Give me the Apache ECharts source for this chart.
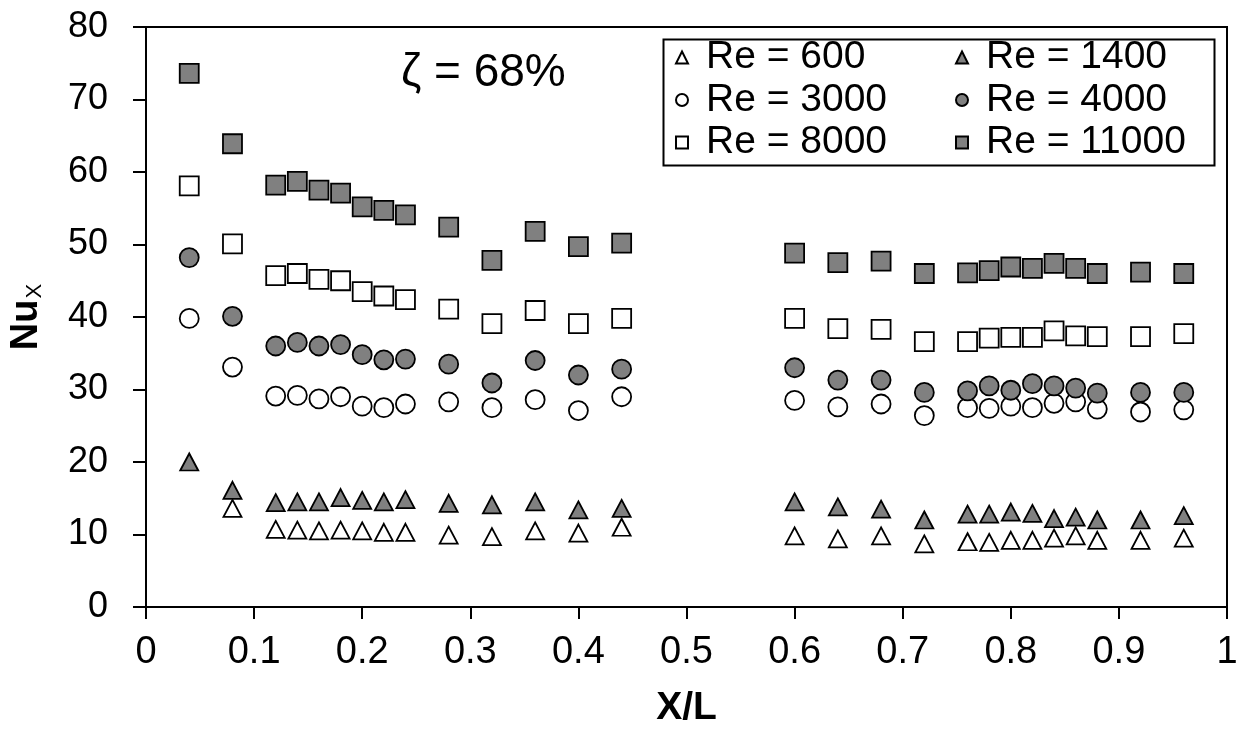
<!DOCTYPE html>
<html>
<head>
<meta charset="utf-8">
<script src="https://cdn.jsdelivr.net/npm/echarts@6/dist/echarts.min.js"></script>
<style>
html,body{margin:0;padding:0;background:#fff;}
#chart{width:1244px;height:733px;}
</style>
</head>
<body>
<div id="chart"></div>
<script>
const xPositions = [0.04, 0.08, 0.12, 0.14, 0.16, 0.18, 0.20, 0.22, 0.24, 0.28, 0.32, 0.36, 0.40, 0.44,
  0.60, 0.64, 0.68, 0.72, 0.76, 0.78, 0.80, 0.82, 0.84, 0.86, 0.88, 0.92, 0.96];

const re600 = [null, 13.6, 10.7, 10.6, 10.5, 10.6, 10.5, 10.3, 10.3, 9.9, 9.7, 10.5, 10.2, 11.0,
  9.8, 9.4, 9.8, 8.7, 9.0, 8.9, 9.2, 9.2, 9.5, 9.8, 9.2, 9.2, 9.5];
const re1400 = [20.0, 16.1, 14.4, 14.5, 14.5, 15.1, 14.7, 14.5, 14.8, 14.3, 14.1, 14.5, 13.4, 13.6,
  14.5, 13.8, 13.5, 12.0, 12.8, 12.8, 13.1, 12.9, 12.2, 12.4, 12.0, 12.0, 12.6];
const re3000 = [39.8, 33.1, 29.1, 29.2, 28.7, 29.0, 27.7, 27.5, 28.0, 28.3, 27.5, 28.6, 27.1, 29.0,
  28.5, 27.6, 28.0, 26.4, 27.5, 27.4, 27.7, 27.5, 28.1, 28.3, 27.3, 26.9, 27.2];
const re4000 = [48.2, 40.1, 36.0, 36.5, 36.0, 36.2, 34.8, 34.1, 34.2, 33.5, 30.9, 34.0, 32.0, 32.8,
  33.0, 31.3, 31.3, 29.6, 29.8, 30.5, 29.9, 30.8, 30.5, 30.2, 29.5, 29.6, 29.6];
const re8000 = [58.1, 50.1, 45.7, 46.0, 45.2, 45.0, 43.5, 42.9, 42.4, 41.1, 39.1, 40.9, 39.1, 39.8,
  39.8, 38.4, 38.3, 36.6, 36.6, 37.1, 37.2, 37.2, 38.1, 37.4, 37.3, 37.3, 37.7];
const re11000 = [73.6, 63.9, 58.2, 58.7, 57.5, 57.1, 55.2, 54.7, 54.1, 52.4, 47.8, 51.8, 49.7, 50.2,
  48.8, 47.5, 47.7, 46.0, 46.1, 46.4, 46.9, 46.7, 47.4, 46.7, 46.0, 46.2, 46.0];

const seriesNames = ['Re = 600', 'Re = 1400', 'Re = 3000', 'Re = 4000', 'Re = 8000', 'Re = 11000'];
const legendCol1 = ['Re = 600', 'Re = 3000', 'Re = 8000'];
const legendCol2 = ['Re = 1400', 'Re = 4000', 'Re = 11000'];
const annotation = 'ζ = 68%';

const FONT = "'Liberation Sans', Arial, Helvetica, sans-serif";
const GRAY = '#808080';

function pairs(vals) {
  const out = [];
  vals.forEach((v, i) => { if (v !== null) out.push([xPositions[i], v]); });
  return out;
}

const styles = [
  {vals: re600, symbol: 'triangle', size: [18, 17], fill: '#ffffff'},
  {vals: re1400, symbol: 'triangle', size: [18, 17], fill: GRAY},
  {vals: re3000, symbol: 'circle', size: 19, fill: '#ffffff'},
  {vals: re4000, symbol: 'circle', size: 19, fill: GRAY},
  {vals: re8000, symbol: 'rect', size: 19, fill: '#ffffff'},
  {vals: re11000, symbol: 'rect', size: 19, fill: GRAY}
];

const series = styles.map((s, i) => ({
  name: seriesNames[i],
  type: 'scatter',
  symbol: s.symbol,
  symbolSize: s.size,
  itemStyle: {color: s.fill, borderColor: '#000', borderWidth: 1.8, opacity: 1},
  emphasis: {disabled: true},
  data: pairs(s.vals)
}));

const legendCommon = {
  orient: 'vertical',
  top: 38,
  padding: 0,
  itemWidth: 12,
  itemHeight: 12,
  itemGap: 3.5,
  selectedMode: false,
  formatter: '{t|{name}}',
  textStyle: {
    fontFamily: FONT, fontSize: 39, lineHeight: 39, color: '#000',
    rich: {t: {fontFamily: FONT, fontSize: 39, lineHeight: 39, color: '#000', padding: [0, 0, 0, 13]}}
  }
};

const chart = echarts.init(document.getElementById('chart'), null, {renderer: 'canvas'});
chart.setOption({
  backgroundColor: '#fff',
  animation: false,
  grid: {left: 146, right: 17, top: 27, bottom: 126, show: true, borderColor: '#000', borderWidth: 2, backgroundColor: 'transparent'},
  legend: [
    Object.assign({}, legendCommon, {left: 675, data: legendCol1}),
    Object.assign({}, legendCommon, {left: 955, data: legendCol2})
  ],
  graphic: [
    {type: 'rect', left: 661, top: 37, shape: {width: 551, height: 126}, style: {fill: 'none', stroke: '#000', lineWidth: 2}, z: 0},
    {type: 'text', left: 401, top: 50, style: {text: annotation, font: "46px " + FONT, fill: '#000'}}
  ],
  xAxis: {
    type: 'value', min: 0, max: 1, interval: 0.1,
    name: 'X/L', nameLocation: 'middle', nameGap: 82,
    nameTextStyle: {fontFamily: FONT, fontSize: 39, fontWeight: 'bold', color: '#000'},
    axisLine: {onZero: false, lineStyle: {color: '#000', width: 2}},
    axisTick: {show: true, length: 12, inside: false, lineStyle: {color: '#000', width: 2}},
    axisLabel: {fontFamily: FONT, fontSize: 38, color: '#000', margin: 27},
    splitLine: {show: false}
  },
  yAxis: {
    type: 'value', min: 0, max: 80, interval: 10,
    name: '{n|Nu}{s|X}', nameLocation: 'middle', nameGap: 100, nameRotate: 90,
    nameTextStyle: {
      rich: {
        n: {fontFamily: FONT, fontSize: 38, fontWeight: 'bold', color: '#000'},
        s: {fontFamily: FONT, fontSize: 22, color: '#000', verticalAlign: 'bottom', padding: [0, 0, 0, 1]}
      }
    },
    axisLine: {onZero: false, lineStyle: {color: '#000', width: 2}},
    axisTick: {show: true, length: 13, inside: false, lineStyle: {color: '#000', width: 2}},
    axisLabel: {fontFamily: FONT, fontSize: 36, color: '#000', margin: 38},
    splitLine: {show: false}
  },
  series: series
});
</script>
</body>
</html>
